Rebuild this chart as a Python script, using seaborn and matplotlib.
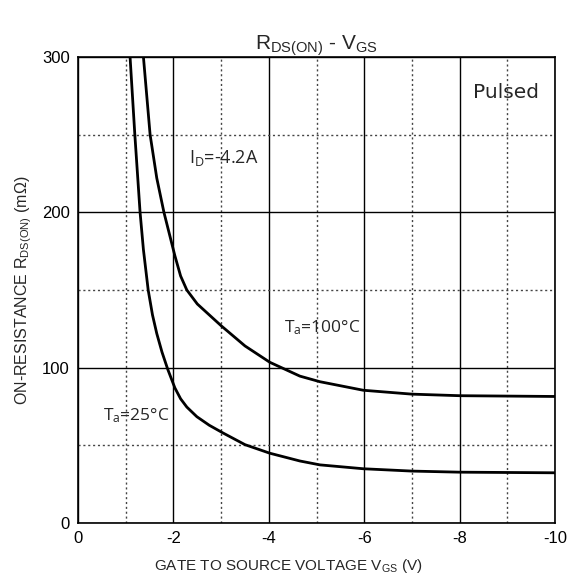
import matplotlib
matplotlib.use("Agg")
import matplotlib.pyplot as plt
import pandas as pd
import seaborn as sns

# curve read-outs (V_GS in volts, R_DS(on) in mOhm)
vgs_25 = [-1.09, -1.19, -1.30, -1.37, -1.47, -1.56, -1.65, -1.76, -1.88, -2.03,
          -2.15, -2.28, -2.49, -2.75, -3.04, -3.50, -4.02, -4.65, -5.07, -5.98,
          -7.0, -8.0, -10.0]
rds_25 = [300, 250, 200, 176, 150, 134, 122, 110, 99, 87,
          80, 74.7, 68.5, 63, 58, 50.5, 45, 40, 37.5, 35,
          33.5, 32.8, 32.4]

vgs_100 = [-1.37, -1.51, -1.65, -1.80, -2.03, -2.15, -2.28, -2.50, -3.0,
           -3.5, -4.02, -4.65, -5.07, -5.98, -7.0, -8.0, -10.0]
rds_100 = [300, 250, 222, 200, 172, 159, 150, 141, 127,
           114, 103.5, 94.6, 91, 85.5, 83, 82, 81.5]

x_ticks = [0, -2, -4, -6, -8, -10]
x_minor = [-1, -3, -5, -7, -9]
y_ticks = [0, 100, 200, 300]
y_minor = [50, 150, 250]

df = pd.concat([
    pd.DataFrame({"vgs": vgs_25, "rds": rds_25, "temp": "25"}),
    pd.DataFrame({"vgs": vgs_100, "rds": rds_100, "temp": "100"}),
])

sns.set_style("white")
plt.rcParams["font.family"] = ["Liberation Sans", "DejaVu Sans"]
plt.rcParams["mathtext.default"] = "regular"

fig = plt.figure(figsize=(5.74, 5.80), dpi=100)
ax = fig.add_axes([0.136, 0.098, 0.831, 0.804])

for t in ["25", "100"]:
    sns.lineplot(data=df[df["temp"] == t], x="vgs", y="rds", sort=False,
                 color="black", linewidth=2.0, ax=ax, legend=False)

ax.set_xlim(0, -10)
ax.set_ylim(0, 300)
ax.set_xticks(x_ticks)
ax.set_xticklabels([str(v) for v in x_ticks])
ax.set_yticks(y_ticks)
ax.set_xticks(x_minor, minor=True)
ax.set_yticks(y_minor, minor=True)
ax.tick_params(which="both", length=0, labelsize=12, colors="black", pad=6)

ax.grid(which="major", color="black", linewidth=1.0, linestyle="-")
ax.grid(which="minor", color="#444444", linewidth=1.0, linestyle=(0, (1.5, 2)))
ax.set_axisbelow(True)
for sp in ax.spines.values():
    sp.set_color("black")
    sp.set_linewidth(1.2)

ax.set_title(r"R$_{DS(ON)}$ - V$_{GS}$", fontsize=15, pad=5)
ax.set_xlabel(r"GATE TO SOURCE VOLTAGE V$_{GS}$ (V)", fontsize=11, labelpad=6)
ax.xaxis.set_label_coords(0.44, -0.072)
ax.set_ylabel(r"ON-RESISTANCE R$_{DS(ON)}$ (m$\Omega$)", fontsize=11.5, labelpad=6)

note_font = ["Open Sans", "DejaVu Sans"]
ax.text(-8.97, 273.5, "Pulsed", family=["DejaVu Sans"], fontsize=14.5,
        ha="center", va="baseline")
ax.text(-2.33, 231.6, r"I$_D$=-4.2A", family=note_font, fontsize=13,
        ha="left", va="baseline")
ax.text(-4.32, 122.5, r"T$_a$=100°C", family=note_font, fontsize=12.5,
        ha="left", va="baseline")
ax.text(-0.53, 66.3, r"T$_a$=25°C", family=note_font, fontsize=12.5,
        ha="left", va="baseline")

fig.savefig("out.png", dpi=100)
